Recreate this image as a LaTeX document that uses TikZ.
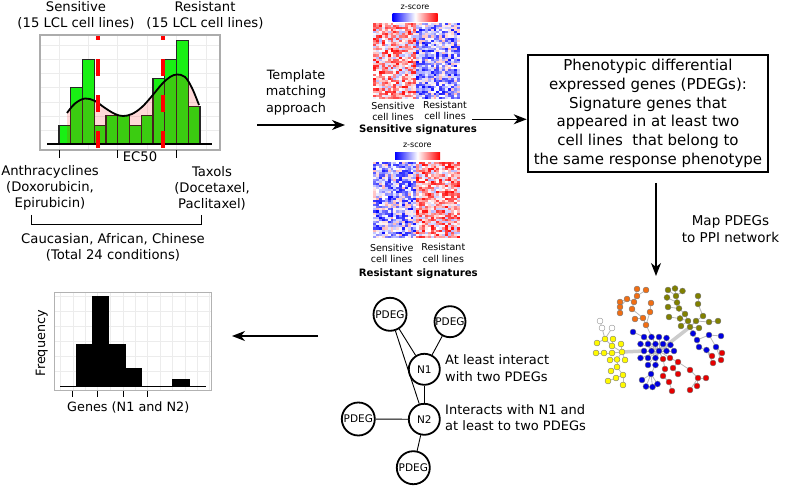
\documentclass[tikz,border=0pt]{standalone}
\usepackage{fontspec}
\setmainfont{DejaVu Sans}
\usetikzlibrary{arrows.meta,backgrounds}
\definecolor{hgreen}{RGB}{25,240,20}
\definecolor{netorange}{RGB}{240,110,20}
\definecolor{netolive}{RGB}{128,128,0}
\definecolor{netblue}{RGB}{0,0,225}
\definecolor{netred}{RGB}{230,0,0}
\definecolor{netyellow}{RGB}{255,250,0}
\tikzset{
  lbl/.style={inner sep=0pt, align=center, font=\fontsize{13.2}{16}\selectfont},
  small/.style={inner sep=0pt, align=center, font=\fontsize{9.5}{11.3}\selectfont},
  arr/.style={line width=1.3pt, -{Stealth[length=13pt,width=10pt,inset=4pt]}},
  net/.style={circle, minimum size=5.9pt, inner sep=0pt, draw=black!55, line width=0.4pt},
  nedge/.style={gray!55, line width=0.8pt},
  thickedge/.style={gray!40, line width=3.5pt},
  gnode/.style={circle, draw, line width=1.8pt, inner sep=0pt, fill=white},
  gridl/.style={gray!15, line width=0.8pt}
}
\begin{document}
\begin{tikzpicture}[x=1pt,y=-1pt]
\useasboundingbox (0,0) rectangle (787,486);
\begin{scope}[on background layer]
  \fill[white] (0,0) rectangle (787,486);
\end{scope}

% ---------------- Histogram 1 ----------------
\fill[white] (40,35) rectangle (220,150);
\foreach \gx in {59,88.4,117.8,147.2,176.6,206}
  \draw[gridl] (\gx,36) -- (\gx,149);
\foreach \gy in {45,59.3,73.6,87.9,102.2,116.5,130.8}
  \draw[gridl] (41,\gy) -- (219,\gy);
\foreach \i/\h in {0/2,1/6,2/9,3/2,4/3,5/3,6/2,7/3,8/7,9/9,10/11,11/4}
  \filldraw[fill=hgreen, draw=black!85, line width=1.3pt]
    ({59+11.75*\i},144) rectangle ({59+11.75*(\i+1)},{144-9.4*\h});
\fill[red, opacity=0.15] (67,144) -- plot[smooth, tension=0.6] coordinates
  {(67,113) (75,103.5) (85,98.5) (95,101) (105,108) (115,114) (123,116) (132,114)
   (142,107) (152,96) (162,84) (170,77) (177,74.5) (185,77) (192,88) (199,105)}
   -- (199,144) -- cycle;
\draw[line width=1.8pt] plot[smooth, tension=0.6] coordinates
  {(67,113) (75,103.5) (85,98.5) (95,101) (105,108) (115,114) (123,116) (132,114)
   (142,107) (152,96) (162,84) (170,77) (177,74.5) (185,77) (192,88) (199,105)};
\draw[line width=1.5pt] (47,144) -- (212,144);
\foreach \dx in {98.3,163.3}
  \draw[red, line width=4pt, dash pattern=on 17pt off 19pt, dash phase=12pt] (\dx,35.5) -- (\dx,148);
\draw[gray!65, line width=1.8pt] (40,35) rectangle (220,150);
\foreach \tx in {59.3,117.7,176.7}
  \draw[line width=1.5pt] (\tx,150) -- (\tx,158);

\node[lbl] (sens) at (76,15) {Sensitive\\(15 LCL cell lines)};
\node[lbl] (resi) at (205,15) {Resistant\\(15 LCL cell lines)};
\node[lbl] (ec50) at (140,157) {EC50};
\node[lbl] (anth) at (50,188) {Anthracyclines\\(Doxorubicin,\\Epirubicin)};
\node[lbl] (taxo) at (212,188) {Taxols\\(Docetaxel,\\Paclitaxel)};
\draw[line width=0.8pt] (31,215) -- (31,224) -- (201.7,224) -- (201.7,215);
\node[lbl] (cauc) at (113,247) {Caucasian, African, Chinese\\(Total 24 conditions)};

% ---------------- Template arrow ----------------
\node[inner sep=0pt, align=center, font=\fontsize{12.8}{16.5}\selectfont] (tmpl) at (296,92)
  {Template\\matching\\approach};
\coordinate (a1s) at (257,125);
\coordinate (a1e) at (345,125);
\draw[arr] (a1s) -- (a1e);

% ---------------- Heatmaps ----------------
\pgfmathsetseed{11}
\foreach \hy/\sg in {22.7/1,161.7/-1}{
  \foreach \r in {0,...,35}{
    \foreach \c in {0,...,29}{
      \pgfmathsetmacro{\v}{\sg*((\c<15)?0.3:-0.3)+0.58*rand}
      \pgfmathtruncatemacro{\p}{min(100,abs(\v)*110)}
      \ifdim \v pt>0pt \def\hc{red}\else\def\hc{blue}\fi
      \fill[\hc!\p!white] ({373.3+2.87*\c},{\hy+2.12*\r}) rectangle ++(3.05,2.3);
    }
  }
}
\shade[left color=blue, right color=red, middle color=white] (392.7,14) rectangle (437.7,21.7);
\shade[left color=blue, right color=red, middle color=white] (395,152.3) rectangle (440,160);
\node[inner sep=0pt, font=\fontsize{8}{9}\selectfont] (zs1) at (415,7) {z-score};
\node[inner sep=0pt, font=\fontsize{8}{9}\selectfont] (zs2) at (417.3,145) {z-score};
\node[small] (hs1) at (393,111.7) {Sensitive\\cell lines};
\node[small] (hr1) at (445,110.5) {Resistant\\cell lines};
\node[inner sep=0pt, font=\fontsize{10.2}{12}\selectfont\bfseries] (sig1) at (418,129.3) {Sensitive signatures};
\node[small] (hs2) at (391.7,253.8) {Sensitive\\cell lines};
\node[small] (hr2) at (443.3,252.9) {Resistant\\cell lines};
\node[inner sep=0pt, font=\fontsize{10.2}{12}\selectfont\bfseries] (sig2) at (418.3,273.3) {Resistant signatures};

% ---------------- PDEG box ----------------
\node[draw, line width=2pt, minimum width=240.6pt, minimum height=116.7pt, inner sep=0pt,
      align=center, font=\fontsize{15}{18.65}\selectfont] (pdeg) at (648,113.3)
  {Phenotypic differential\\expressed genes (PDEGs):\\Signature genes that\\appeared in at least two\\cell lines\ \ that belong to\\the same response phenotype};
\coordinate (a2s) at (472,119.3);
\draw[arr] (a2s) -- (a2s -| pdeg.west);

\coordinate (a3s) at (656,183);
\coordinate (a3e) at (656,276);
\draw[arr] (a3s) -- (a3e);
\node[inner sep=0pt, align=center, font=\fontsize{13.5}{16.7}\selectfont] (mapt) at (730.5,229)
  {Map PDEGs\\to PPI network};

% ---------------- PPI network ----------------
\foreach \n/\x/\y in {1/637/289,2/646/290,3/637/296,4/627/299,5/620/302,6/620/307,7/620/313,
  8/634/302,9/632/309,10/651/303,11/650/312,12/643/318,13/635/319,14/646/325}
  \node[net, fill=netorange] (o\n) at (\x,\y) {};
\foreach \n/\x/\y in {1/668/290,2/675/288.5,3/682.5/291,4/676/296,5/667/297.5,6/677/302.5,7/668/307,
  8/679/308.5,9/685/314,10/698/296,11/698/304,12/703/316,13/669/317,14/680/318.5,15/688/321,
  16/696/321,17/709/322,18/718/321,19/690/327,20/699/328,21/681/326}
  \node[net, fill=netolive] (l\n) at (\x,\y) {};
\foreach \n/\x/\y in {0/659/351,1/644/337,2/651.5/337,3/659/337,4/666.5/338,
  5/640.5/344,6/648/344,7/655.5/344,8/663/344,9/670.5/345,
  10/644/351,11/651.5/351,12/666.5/351,13/674/351,
  14/640.5/358,15/648/358,16/655.5/358,17/648/365,18/655.5/365,19/633/332}
  \node[net, fill=netblue] (b\n) at (\x,\y) {};
\foreach \n/\x/\y in {1/693/333.5,2/697/340,3/699/347,4/709/335,5/721/336,6/706.5/350,7/716/347}
  \node[net, fill=netblue] (c\n) at (\x,\y) {};
\foreach \n/\x/\y in {0/651/374,1/642/380,2/646/386.5,3/652.5/387,4/657.5/384}
  \node[net, fill=netblue] (d\n) at (\x,\y) {};
\foreach \n/\x/\y in {1/663/359,2/670/358,3/678/362,4/665/369,5/673/368,6/663/376,7/678/374,
  8/690/370,9/669/382,10/672/391,11/690/390,12/697/386,13/698/378,14/706/378,15/713/363,
  16/721/360,17/712/356,18/722/353}
  \node[net, fill=netred] (r\n) at (\x,\y) {};
\foreach \n/\x/\y in {1/596/353,2/604/353,3/612/353,4/622/352,5/597/343,6/605/339,7/613/339,
  8/612/346,9/621/344,10/610/360,11/617/359.5,12/625/360,13/617/367,14/611/371,15/623/375,
  16/616/378,17/608/381,18/623/385}
  \node[net, fill=netyellow] (y\n) at (\x,\y) {};
\foreach \n/\x/\y in {1/600/321,2/602/328,3/612/328}
  \node[net, fill=white, draw=black!45] (w\n) at (\x,\y) {};

\begin{scope}[on background layer]
  \draw[thickedge] (b0) -- (l19);
  \draw[thickedge] (b10) -- (y4);
  \foreach \a/\b in {o1/o8,o2/o3,o3/o8,o4/o8,o5/o4,o6/o4,o7/o6,o8/o9,o9/o12,o10/o11,o11/o14,
    o12/o14,o13/o12,o14/b0,
    l1/l4,l2/l4,l3/l4,l4/l6,l5/l6,l6/l8,l7/l8,l8/l9,l9/l15,l10/l11,l11/l12,l12/l16,l13/l14,
    l14/l15,l15/l19,l16/l19,l17/l16,l18/l17,l20/l19,l21/l15,c1/l19,
    b1/b0,b2/b0,b3/b0,b4/b0,b5/b0,b6/b0,b7/b0,b8/b0,b9/b0,b10/b0,b11/b0,b12/b0,b13/b0,
    b14/b0,b15/b0,b16/b0,b17/b0,b18/b0,b19/b1,
    c2/c1,c3/c2,c4/c2,c5/c4,c6/c3,c7/c4,
    d0/b18,d1/d0,d2/d0,d3/d0,d4/d0,
    r1/b0,r2/b0,r3/r2,r4/r1,r5/r3,r6/r4,r7/r5,r8/r3,r9/r6,r10/r9,r11/r13,r12/r13,r13/r8,
    r14/r13,r15/c6,r16/c7,r17/c6,r18/c7,
    y1/y2,y2/y3,y3/y4,y5/y6,y6/y8,y7/y8,y8/y4,y9/y4,y10/y11,y11/y4,y12/y4,y13/y11,y14/y13,
    y15/y13,y16/y15,y17/y16,y18/y15,w1/w2,w2/y6,w3/y6}
    \draw[nedge] (\a) -- (\b);
\end{scope}

% ---------------- Small graph ----------------
\node[gnode, minimum size=33pt, font=\fontsize{10.5}{12}\selectfont] (pA) at (390,314.3) {PDEG};
\node[gnode, minimum size=31pt, font=\fontsize{10.5}{12}\selectfont] (pB) at (450,321.7) {PDEG};
\node[gnode, minimum size=31pt, font=\fontsize{10.5}{12}\selectfont] (n1) at (424.3,369.3) {N1};
\node[gnode, minimum size=31pt, font=\fontsize{10.5}{12}\selectfont] (n2) at (424.3,419.3) {N2};
\node[gnode, minimum size=33pt, font=\fontsize{10.5}{12}\selectfont] (pC) at (358.3,419) {PDEG};
\node[gnode, minimum size=33pt, font=\fontsize{10.5}{12}\selectfont] (pD) at (413.3,467.7) {PDEG};
\foreach \a/\b in {pA/n1,pA/n2,pB/n1,n1/n2,pC/n2,n2/pD}
  \draw[line width=0.9pt] (\a) -- (\b);
\node[inner sep=0pt, align=left, anchor=west, font=\fontsize{13}{16.6}\selectfont] (t1) at (445,368.3)
  {At least interact\\with two PDEGs};
\node[inner sep=0pt, align=left, anchor=west, font=\fontsize{13}{16.6}\selectfont] (t2) at (445,417.5)
  {Interacts with N1 and\\at least to two PDEGs};

\coordinate (a4s) at (318,336);
\coordinate (a4e) at (232,336);
\draw[arr] (a4s) -- (a4e);

% ---------------- Histogram 2 ----------------
\fill[white] (54,292.3) rectangle (211.7,390);
\foreach \gx in {60.5,73,85.3,97.7,110.5,123.3,135.5,147.7,160.2,172.7,185,197.3,209.8}
  \draw[gridl] (\gx,293) -- (\gx,389.5);
\foreach \gy in {296.7,311.7,326.7,341.7,356.7,371.7}
  \draw[gridl] (54.5,\gy) -- (211.2,\gy);
\fill[black] (76,386.7) rectangle (92.3,344);
\fill[black] (92.3,386.7) rectangle (109.3,295.7);
\fill[black] (109.3,386.7) rectangle (125.7,344);
\fill[black] (125.7,386.7) rectangle (141.7,367.7);
\fill[black] (171.7,386.7) rectangle (190,379.3);
\draw[line width=1.2pt] (60,386.7) -- (205.7,386.7);
\draw[gray!60, line width=1pt] (54,292.3) rectangle (211.7,390);
\foreach \tx in {72.7,97.7,123.3,147.7}
  \draw[line width=1.2pt] (\tx,391) -- (\tx,396.7);
\node[inner sep=0pt, rotate=90, font=\fontsize{12.8}{15}\selectfont] (freq) at (41.7,343.3) {Frequency};
\node[inner sep=0pt, font=\fontsize{12.8}{15}\selectfont] (genes) at (128.3,407.3) {Genes (N1 and N2)};

\end{tikzpicture}
\end{document}
